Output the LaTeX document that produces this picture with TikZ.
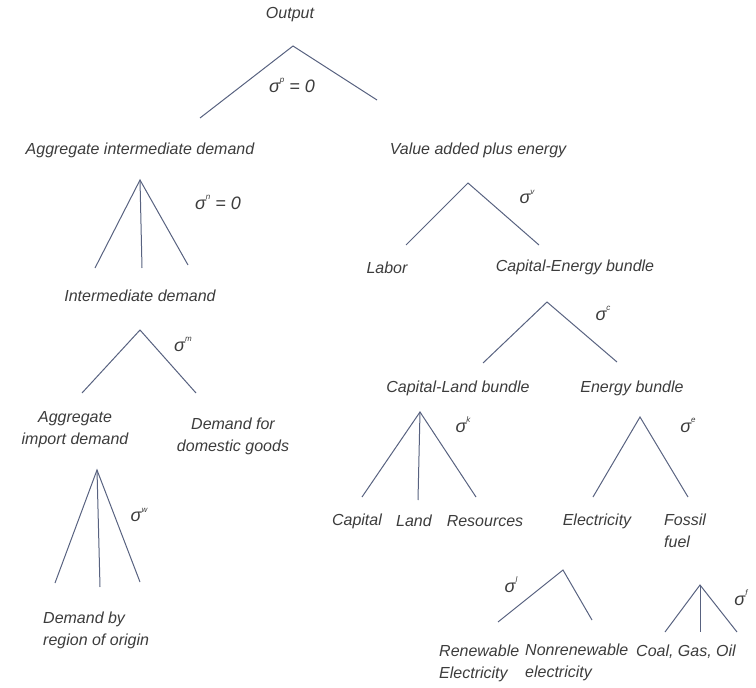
\documentclass[tikz,border=0pt]{standalone}
\usepackage{fontspec}
\setmainfont{Liberation Sans}
\definecolor{txtgray}{RGB}{60,60,60}
\definecolor{linegray}{RGB}{88,98,128}
\newcommand{\sig}[1]{σ\raisebox{.55em}{\fontsize{8}{9}\selectfont #1}}

\begin{document}
\begin{tikzpicture}[x=1pt,y=-1pt,
    every node/.append style={font=\itshape\fontsize{16}{22}\selectfont,
                    text=txtgray, inner sep=0pt},
    leg/.style={draw=linegray, line width=1pt},
    sigma/.style={font=\itshape\fontsize{18}{20}\selectfont}]
    \useasboundingbox (0,0) rectangle (756,688);
    % goods and bundles
    \node (output) at (290,15) {Output};
    \node (aid) at (140,150) {Aggregate intermediate demand};
    \node (vae) at (478,150) {Value added plus energy};
    \node (id) at (140,296) {Intermediate demand};
    \node[align=center] (aimp) at (75,430) {Aggregate\\import demand};
    \node[align=center] (dom) at (233,436) {Demand for\\domestic goods};
    \node[align=left,anchor=north west] (reg) at (43,612) {Demand by\\region of origin};
    \node (labor) at (387,268) {Labor};
    \node (ceb) at (575,267) {Capital-Energy bundle};
    \node (clb) at (458,388) {Capital-Land bundle};
    \node (enb) at (632,388) {Energy bundle};
    \node (cap) at (357,521) {Capital};
    \node (land) at (414,521) {Land};
    \node (res) at (485,521) {Resources};
    \node (elec) at (597,521) {Electricity};
    \node[align=left,anchor=west] (foss) at (664,531) {Fossil\\fuel};
    \node[align=left,anchor=west] (renew) at (439,663) {Renewable\\Electricity};
    \node[align=left,anchor=west] (nonren) at (525,662) {Nonrenewable\\electricity};
    \node[anchor=west] (cgo) at (636,652) {Coal, Gas, Oil};
    % elasticities
    \node[sigma] (s-p) at (292,85) {\sig{p} = 0};
    \node[sigma] (s-n) at (218,202) {\sig{n} = 0};
    \node[sigma] (s-m) at (183,344) {\sig{m}};
    \node[sigma] (s-w) at (139,515) {\sig{w}};
    \node[sigma] (s-v) at (527,197) {\sig{v}};
    \node[sigma] (s-c) at (603,313) {\sig{c}};
    \node[sigma] (s-k) at (463,425) {\sig{k}};
    \node[sigma] (s-e) at (688,425) {\sig{e}};
    \node[sigma] (s-l) at (511,585) {\sig{l}};
    \node[sigma] (s-f) at (741,598) {\sig{f}};
    % nests
    \coordinate (out-t) at (293,46);
    \coordinate (out-l) at (200,118);
    \coordinate (out-r) at (377,100);
    \draw[leg] (out-l) -- (out-t) -- (out-r);
    \coordinate (aid-t) at (140,180);
    \coordinate (aid-l) at (95,268);
    \coordinate (aid-m) at (142,268);
    \coordinate (aid-r) at (188,265);
    \draw[leg] (aid-l) -- (aid-t) -- (aid-r);
    \draw[leg] (aid-t) -- (aid-m);
    \coordinate (id-t) at (140,330);
    \coordinate (id-l) at (82,393);
    \coordinate (id-r) at (196,393);
    \draw[leg] (id-l) -- (id-t) -- (id-r);
    \coordinate (imp-t) at (97,470);
    \coordinate (imp-l) at (55,583);
    \coordinate (imp-m) at (100,587);
    \coordinate (imp-r) at (140,582);
    \draw[leg] (imp-l) -- (imp-t) -- (imp-r);
    \draw[leg] (imp-t) -- (imp-m);
    \coordinate (vae-t) at (468,183);
    \coordinate (vae-l) at (406,245);
    \coordinate (vae-r) at (539,245);
    \draw[leg] (vae-l) -- (vae-t) -- (vae-r);
    \coordinate (ceb-t) at (547,302);
    \coordinate (ceb-l) at (483,363);
    \coordinate (ceb-r) at (617,362);
    \draw[leg] (ceb-l) -- (ceb-t) -- (ceb-r);
    \coordinate (clb-t) at (420,412);
    \coordinate (clb-l) at (362,497);
    \coordinate (clb-m) at (418,500);
    \coordinate (clb-r) at (476,497);
    \draw[leg] (clb-l) -- (clb-t) -- (clb-r);
    \draw[leg] (clb-t) -- (clb-m);
    \coordinate (enb-t) at (640,417);
    \coordinate (enb-l) at (593,497);
    \coordinate (enb-r) at (688,497);
    \draw[leg] (enb-l) -- (enb-t) -- (enb-r);
    \coordinate (elec-t) at (563,570);
    \coordinate (elec-l) at (498,622);
    \coordinate (elec-r) at (592,620);
    \draw[leg] (elec-l) -- (elec-t) -- (elec-r);
    \coordinate (foss-t) at (700,585);
    \coordinate (foss-l) at (665,632);
    \coordinate (foss-m) at (700,632);
    \coordinate (foss-r) at (737,632);
    \draw[leg] (foss-l) -- (foss-t) -- (foss-r);
    \draw[leg] (foss-t) -- (foss-m);
\end{tikzpicture}
\end{document}
